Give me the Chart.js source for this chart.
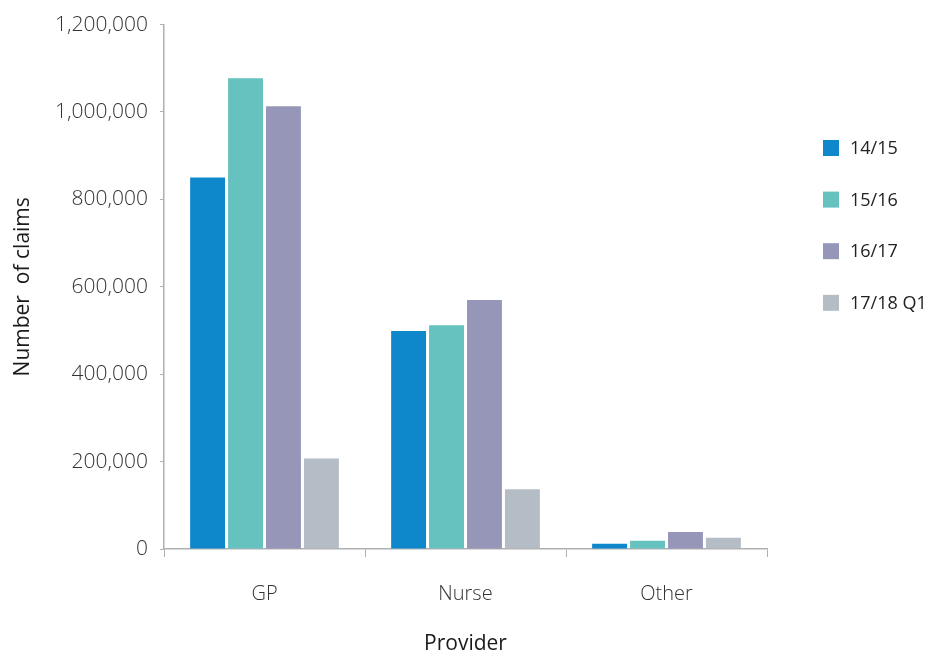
<!DOCTYPE html>
<html>
<head>
<meta charset="utf-8">
<title>Number of claims by provider</title>
<script src="https://cdn.jsdelivr.net/npm/chart.js@4/dist/chart.umd.min.js"></script>
<style>
  html, body { margin: 0; padding: 0; background: #fff; }
  #wrap { width: 931px; height: 652px; position: relative; }
</style>
</head>
<body>
<div id="wrap"><canvas id="claimsChart"></canvas></div>
<script>
// Claims per provider type, by financial year
const providers = ['GP', 'Nurse', 'Other'];
const periods = ['14/15', '15/16', '16/17', '17/18 Q1'];
const claims1415 = [850000, 499000, 12000];
const claims1516 = [1077000, 512000, 19000];
const claims1617 = [1013000, 570000, 39000];
const claims1718Q1 = [207000, 137000, 26000];
const yTicks = [0, 200000, 400000, 600000, 800000, 1000000, 1200000];

const colours = ['#0e87cb', '#65c2bf', '#9696b9', '#b4bcc5'];
const axisGrey = '#b0b0b0';
const lightFont = '"Open Sans", "Noto Sans", sans-serif';

// Simple legend drawn in the right margin, one row per dataset
const sideLegend = {
    id: 'sideLegend',
    afterDraw(chart, args, opts) {
        const ctx = chart.ctx;
        ctx.save();
        ctx.font = '18px ' + lightFont;
        ctx.textBaseline = 'middle';
        ctx.textAlign = 'left';
        chart.data.datasets.forEach((ds, i) => {
            const cy = opts.y + i * opts.gap;
            ctx.fillStyle = ds.backgroundColor;
            ctx.fillRect(opts.x, cy - opts.box / 2, opts.box, opts.box);
            ctx.fillStyle = '#222';
            ctx.fillText(ds.label, opts.x + opts.box + 11, cy + 1);
        });
        ctx.restore();
    }
};

const series = [claims1415, claims1516, claims1617, claims1718Q1];

new Chart('claimsChart', {
    type: 'bar',
    data: {
        labels: providers,
        datasets: series.map((values, i) => ({
            label: periods[i],
            data: values,
            backgroundColor: colours[i],
            borderWidth: 0,
            categoryPercentage: 0.755,
            barPercentage: 0.92
        }))
    },
    options: {
        responsive: true,
        maintainAspectRatio: false,
        animation: false,
        layout: { padding: { top: 20, right: 164, bottom: 0, left: 0 } },
        plugins: {
            legend: { display: false },
            tooltip: { enabled: false },
            sideLegend: { x: 823, y: 148, gap: 51.6, box: 16 }
        },
        scales: {
            x: {
                grid: {
                    display: true,
                    offset: true,
                    drawOnChartArea: false,
                    drawTicks: true,
                    tickLength: 8,
                    color: axisGrey
                },
                border: { display: true, color: axisGrey, width: 1.5 },
                ticks: {
                    color: '#333',
                    padding: 25,
                    font: { family: lightFont, size: 20, weight: 300 }
                },
                title: {
                    display: true,
                    text: 'Provider',
                    color: '#1a1a1a',
                    padding: { top: 0, bottom: 0 },
                    font: { family: lightFont, size: 21, lineHeight: 0.72 }
                },
                afterFit(scale) { scale.height = 103; }
            },
            y: {
                min: 0,
                max: 1200000,
                afterBuildTicks(scale) {
                    scale.ticks = yTicks.map(v => ({ value: v }));
                },
                grid: {
                    display: true,
                    drawOnChartArea: false,
                    drawTicks: true,
                    tickLength: 4,
                    color: axisGrey
                },
                border: { display: true, color: axisGrey, width: 1.5 },
                ticks: {
                    color: '#333',
                    padding: 12,
                    font: { family: lightFont, size: 21, weight: 300 },
                    callback: v => v.toLocaleString('en-US')
                },
                title: {
                    display: true,
                    text: 'Number  of claims',
                    color: '#1a1a1a',
                    padding: { top: 10, bottom: 0 },
                    font: { family: lightFont, size: 21 }
                },
                afterFit(scale) { scale.width = 164; }
            }
        }
    },
    plugins: [sideLegend]
});
</script>
</body>
</html>
